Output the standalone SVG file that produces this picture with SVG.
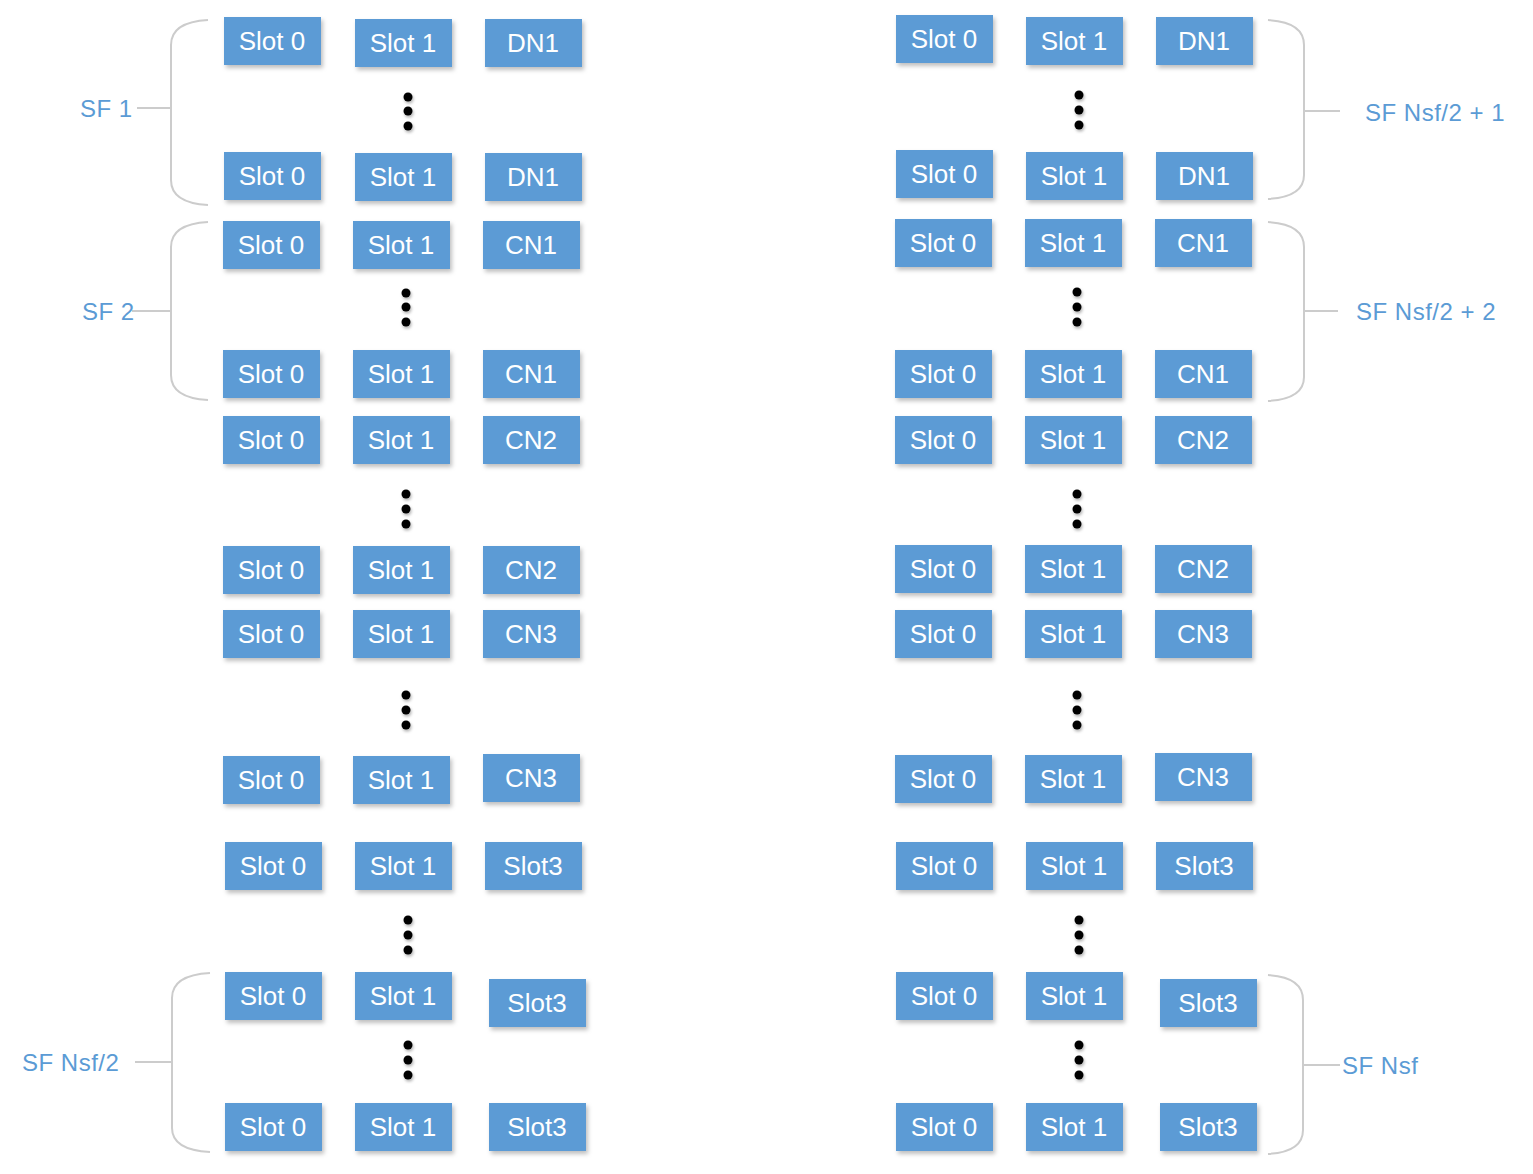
<svg xmlns="http://www.w3.org/2000/svg" width="1533" height="1174" viewBox="0 0 1533 1174">
<defs>
<filter id="sh" x="-10%" y="-10%" width="130%" height="140%"><feDropShadow dx="2" dy="3" stdDeviation="2" flood-color="#000" flood-opacity="0.25"/></filter>
<filter id="dsh" x="-50%" y="-50%" width="200%" height="200%"><feDropShadow dx="1" dy="2" stdDeviation="1.5" flood-color="#000" flood-opacity="0.3"/></filter>
<style>
.b rect{fill:#5b9bd5;filter:url(#sh)}
.b text{fill:#fff;font-family:"Liberation Sans",Arial,sans-serif;font-size:26px;text-anchor:middle}
.br{fill:none;stroke:#cccccc;stroke-width:2}
.lb{fill:#5b9bd5;font-family:"Liberation Sans",Arial,sans-serif;font-size:24px;letter-spacing:0.5px}
.d circle{fill:#000;filter:url(#dsh)}
</style>
</defs>
<rect width="1533" height="1174" fill="#fff"/>
<g id="connectors">
<path class="br" d="M208,20 Q171,22 171,45 L171,180 Q171,203 208,205 M137,108 L171,108"/>
<path class="br" d="M208,222 Q171,224 171,247 L171,375 Q171,398 208,400 M132,311 L171,311"/>
<path class="br" d="M210,973 Q172,975 172,998 L172,1128 Q172,1150 210,1152 M135,1062 L172,1062"/>
<path class="br" d="M1268,20 Q1304,22 1304,45 L1304,175 Q1304,197 1268,199 M1304,111 L1340,111"/>
<path class="br" d="M1268,222 Q1304,224 1304,247 L1304,377 Q1304,399 1268,401 M1304,311 L1338,311"/>
<path class="br" d="M1268,975 Q1303,977 1303,1000 L1303,1130 Q1303,1152 1268,1154 M1303,1065 L1340,1065"/>
</g>
<g id="labels">
<text class="lb" x="80" y="117">SF 1</text>
<text class="lb" x="82" y="320">SF 2</text>
<text class="lb" x="22" y="1071">SF Nsf/2</text>
<text class="lb" x="1365" y="121">SF Nsf/2 + 1</text>
<text class="lb" x="1356" y="320">SF Nsf/2 + 2</text>
<text class="lb" x="1342" y="1074">SF Nsf</text>
</g>
<g id="dots" class="d">
<circle cx="408" cy="97" r="4.5"/><circle cx="408" cy="111" r="4.5"/><circle cx="408" cy="126" r="4.5"/>
<circle cx="406" cy="293" r="4.5"/><circle cx="406" cy="307" r="4.5"/><circle cx="406" cy="322" r="4.5"/>
<circle cx="406" cy="494" r="4.5"/><circle cx="406" cy="509" r="4.5"/><circle cx="406" cy="524" r="4.5"/>
<circle cx="406" cy="695" r="4.5"/><circle cx="406" cy="710" r="4.5"/><circle cx="406" cy="725" r="4.5"/>
<circle cx="408" cy="920" r="4.5"/><circle cx="408" cy="935" r="4.5"/><circle cx="408" cy="950" r="4.5"/>
<circle cx="408" cy="1045" r="4.5"/><circle cx="408" cy="1060" r="4.5"/><circle cx="408" cy="1075" r="4.5"/>
<circle cx="1079" cy="95" r="4.5"/><circle cx="1079" cy="110" r="4.5"/><circle cx="1079" cy="125" r="4.5"/>
<circle cx="1077" cy="292" r="4.5"/><circle cx="1077" cy="307" r="4.5"/><circle cx="1077" cy="322" r="4.5"/>
<circle cx="1077" cy="494" r="4.5"/><circle cx="1077" cy="509" r="4.5"/><circle cx="1077" cy="524" r="4.5"/>
<circle cx="1077" cy="695" r="4.5"/><circle cx="1077" cy="710" r="4.5"/><circle cx="1077" cy="725" r="4.5"/>
<circle cx="1079" cy="920" r="4.5"/><circle cx="1079" cy="935" r="4.5"/><circle cx="1079" cy="950" r="4.5"/>
<circle cx="1079" cy="1045" r="4.5"/><circle cx="1079" cy="1060" r="4.5"/><circle cx="1079" cy="1075" r="4.5"/>
</g>
<!-- Left column -->
<g id="L1a" class="b"><rect x="224" y="17" width="97" height="48"/><text x="272" y="50">Slot 0</text></g>
<g id="L1b" class="b"><rect x="355" y="19" width="97" height="48"/><text x="403" y="52">Slot 1</text></g>
<g id="L1c" class="b"><rect x="485" y="19" width="97" height="48"/><text x="533" y="52">DN1</text></g>
<g id="L2a" class="b"><rect x="224" y="152" width="97" height="48"/><text x="272" y="185">Slot 0</text></g>
<g id="L2b" class="b"><rect x="355" y="153" width="97" height="48"/><text x="403" y="186">Slot 1</text></g>
<g id="L2c" class="b"><rect x="485" y="153" width="97" height="48"/><text x="533" y="186">DN1</text></g>
<g id="L3a" class="b"><rect x="223" y="221" width="97" height="48"/><text x="271" y="254">Slot 0</text></g>
<g id="L3b" class="b"><rect x="353" y="221" width="97" height="48"/><text x="401" y="254">Slot 1</text></g>
<g id="L3c" class="b"><rect x="483" y="221" width="97" height="48"/><text x="531" y="254">CN1</text></g>
<g id="L4a" class="b"><rect x="223" y="350" width="97" height="48"/><text x="271" y="383">Slot 0</text></g>
<g id="L4b" class="b"><rect x="353" y="350" width="97" height="48"/><text x="401" y="383">Slot 1</text></g>
<g id="L4c" class="b"><rect x="483" y="350" width="97" height="48"/><text x="531" y="383">CN1</text></g>
<g id="L5a" class="b"><rect x="223" y="416" width="97" height="48"/><text x="271" y="449">Slot 0</text></g>
<g id="L5b" class="b"><rect x="353" y="416" width="97" height="48"/><text x="401" y="449">Slot 1</text></g>
<g id="L5c" class="b"><rect x="483" y="416" width="97" height="48"/><text x="531" y="449">CN2</text></g>
<g id="L6a" class="b"><rect x="223" y="546" width="97" height="48"/><text x="271" y="579">Slot 0</text></g>
<g id="L6b" class="b"><rect x="353" y="546" width="97" height="48"/><text x="401" y="579">Slot 1</text></g>
<g id="L6c" class="b"><rect x="483" y="546" width="97" height="48"/><text x="531" y="579">CN2</text></g>
<g id="L7a" class="b"><rect x="223" y="610" width="97" height="48"/><text x="271" y="643">Slot 0</text></g>
<g id="L7b" class="b"><rect x="353" y="610" width="97" height="48"/><text x="401" y="643">Slot 1</text></g>
<g id="L7c" class="b"><rect x="483" y="610" width="97" height="48"/><text x="531" y="643">CN3</text></g>
<g id="L8a" class="b"><rect x="223" y="756" width="97" height="48"/><text x="271" y="789">Slot 0</text></g>
<g id="L8b" class="b"><rect x="353" y="756" width="97" height="48"/><text x="401" y="789">Slot 1</text></g>
<g id="L8c" class="b"><rect x="483" y="754" width="97" height="48"/><text x="531" y="787">CN3</text></g>
<g id="L9a" class="b"><rect x="225" y="842" width="97" height="48"/><text x="273" y="875">Slot 0</text></g>
<g id="L9b" class="b"><rect x="355" y="842" width="97" height="48"/><text x="403" y="875">Slot 1</text></g>
<g id="L9c" class="b"><rect x="485" y="842" width="97" height="48"/><text x="533" y="875">Slot3</text></g>
<g id="L10a" class="b"><rect x="225" y="972" width="97" height="48"/><text x="273" y="1005">Slot 0</text></g>
<g id="L10b" class="b"><rect x="355" y="972" width="97" height="48"/><text x="403" y="1005">Slot 1</text></g>
<g id="L10c" class="b"><rect x="489" y="979" width="97" height="48"/><text x="537" y="1012">Slot3</text></g>
<g id="L11a" class="b"><rect x="225" y="1103" width="97" height="48"/><text x="273" y="1136">Slot 0</text></g>
<g id="L11b" class="b"><rect x="355" y="1103" width="97" height="48"/><text x="403" y="1136">Slot 1</text></g>
<g id="L11c" class="b"><rect x="489" y="1103" width="97" height="48"/><text x="537" y="1136">Slot3</text></g>
<!-- Right column -->
<g id="R1a" class="b"><rect x="896" y="15" width="97" height="48"/><text x="944" y="48">Slot 0</text></g>
<g id="R1b" class="b"><rect x="1026" y="17" width="97" height="48"/><text x="1074" y="50">Slot 1</text></g>
<g id="R1c" class="b"><rect x="1156" y="17" width="97" height="48"/><text x="1204" y="50">DN1</text></g>
<g id="R2a" class="b"><rect x="896" y="150" width="97" height="48"/><text x="944" y="183">Slot 0</text></g>
<g id="R2b" class="b"><rect x="1026" y="152" width="97" height="48"/><text x="1074" y="185">Slot 1</text></g>
<g id="R2c" class="b"><rect x="1156" y="152" width="97" height="48"/><text x="1204" y="185">DN1</text></g>
<g id="R3a" class="b"><rect x="895" y="219" width="97" height="48"/><text x="943" y="252">Slot 0</text></g>
<g id="R3b" class="b"><rect x="1025" y="219" width="97" height="48"/><text x="1073" y="252">Slot 1</text></g>
<g id="R3c" class="b"><rect x="1155" y="219" width="97" height="48"/><text x="1203" y="252">CN1</text></g>
<g id="R4a" class="b"><rect x="895" y="350" width="97" height="48"/><text x="943" y="383">Slot 0</text></g>
<g id="R4b" class="b"><rect x="1025" y="350" width="97" height="48"/><text x="1073" y="383">Slot 1</text></g>
<g id="R4c" class="b"><rect x="1155" y="350" width="97" height="48"/><text x="1203" y="383">CN1</text></g>
<g id="R5a" class="b"><rect x="895" y="416" width="97" height="48"/><text x="943" y="449">Slot 0</text></g>
<g id="R5b" class="b"><rect x="1025" y="416" width="97" height="48"/><text x="1073" y="449">Slot 1</text></g>
<g id="R5c" class="b"><rect x="1155" y="416" width="97" height="48"/><text x="1203" y="449">CN2</text></g>
<g id="R6a" class="b"><rect x="895" y="545" width="97" height="48"/><text x="943" y="578">Slot 0</text></g>
<g id="R6b" class="b"><rect x="1025" y="545" width="97" height="48"/><text x="1073" y="578">Slot 1</text></g>
<g id="R6c" class="b"><rect x="1155" y="545" width="97" height="48"/><text x="1203" y="578">CN2</text></g>
<g id="R7a" class="b"><rect x="895" y="610" width="97" height="48"/><text x="943" y="643">Slot 0</text></g>
<g id="R7b" class="b"><rect x="1025" y="610" width="97" height="48"/><text x="1073" y="643">Slot 1</text></g>
<g id="R7c" class="b"><rect x="1155" y="610" width="97" height="48"/><text x="1203" y="643">CN3</text></g>
<g id="R8a" class="b"><rect x="895" y="755" width="97" height="48"/><text x="943" y="788">Slot 0</text></g>
<g id="R8b" class="b"><rect x="1025" y="755" width="97" height="48"/><text x="1073" y="788">Slot 1</text></g>
<g id="R8c" class="b"><rect x="1155" y="753" width="97" height="48"/><text x="1203" y="786">CN3</text></g>
<g id="R9a" class="b"><rect x="896" y="842" width="97" height="48"/><text x="944" y="875">Slot 0</text></g>
<g id="R9b" class="b"><rect x="1026" y="842" width="97" height="48"/><text x="1074" y="875">Slot 1</text></g>
<g id="R9c" class="b"><rect x="1156" y="842" width="97" height="48"/><text x="1204" y="875">Slot3</text></g>
<g id="R10a" class="b"><rect x="896" y="972" width="97" height="48"/><text x="944" y="1005">Slot 0</text></g>
<g id="R10b" class="b"><rect x="1026" y="972" width="97" height="48"/><text x="1074" y="1005">Slot 1</text></g>
<g id="R10c" class="b"><rect x="1160" y="979" width="97" height="48"/><text x="1208" y="1012">Slot3</text></g>
<g id="R11a" class="b"><rect x="896" y="1103" width="97" height="48"/><text x="944" y="1136">Slot 0</text></g>
<g id="R11b" class="b"><rect x="1026" y="1103" width="97" height="48"/><text x="1074" y="1136">Slot 1</text></g>
<g id="R11c" class="b"><rect x="1160" y="1103" width="97" height="48"/><text x="1208" y="1136">Slot3</text></g>
</svg>
